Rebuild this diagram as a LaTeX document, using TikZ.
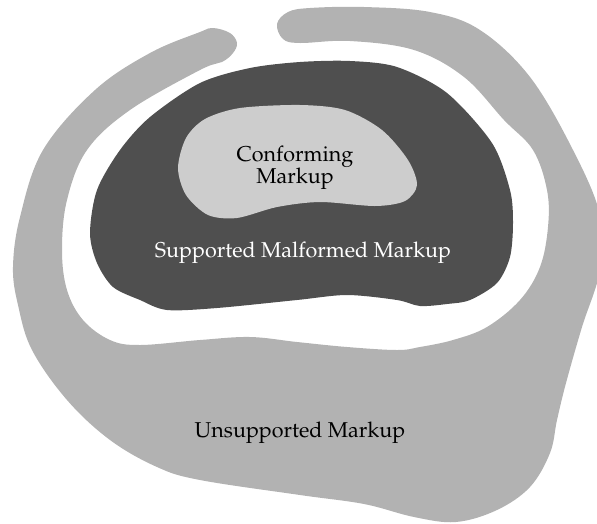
\documentclass[tikz,border=0pt]{standalone}
\usepackage[T1]{fontenc}
\usepackage{mathpazo}
\usepackage{tikz}

\definecolor{outergray}{RGB}{178,178,178}
\definecolor{darkgray}{RGB}{79,79,79}
\definecolor{lightgray}{RGB}{205,205,205}

\begin{document}
\begin{tikzpicture}
[   x=1pt, y=-1pt,
    region/.style={fill=#1, draw=none},
    txt/.style={align=center, inner sep=0pt, font=\fontsize{21.5}{22}\selectfont},
]
    \useasboundingbox (0,0) rectangle (597,523);

    % unsupported markup, open at the top
    \fill[region=outergray] plot[smooth cycle, tension=0.6] coordinates {
        (213,28) (200,32) (150,53) (95,90) (43,150) (20,217) (13,267) (18,305)
        (32,350) (67,400) (110,440) (157,467) (200,480) (300,495) (364,504)
        (414,517) (456,522) (497,510) (530,487) (550,453) (557,420) (566,383)
        (582,327) (600,270) (600,215) (573,150) (530,77) (480,30) (430,12)
        (364,7) (310,8) (288,12) (277,24) (283,39) (300,43) (350,41) (414,50)
        (464,77) (504,120) (533,150) (547,190) (548,227) (540,267) (520,300)
        (487,327) (453,340) (420,347) (397,350) (347,347) (297,342) (250,337)
        (200,340) (140,345) (110,340) (83,320) (67,290) (62,250) (67,200)
        (87,150) (130,110) (200,70) (222,62) (233,53) (237,43) (230,33)
    };

    % supported malformed markup
    \fill[region=darkgray] plot[smooth cycle] coordinates {
        (250,68) (300,62) (350,61) (397,67) (447,93) (492,143) (510,190)
        (513,223) (510,257) (497,283) (470,300) (447,304) (420,306) (397,300)
        (347,295) (297,300) (217,308) (167,310) (140,300) (113,287) (97,263)
        (90,233) (97,190) (120,150) (150,117) (200,83)
    };

    % conforming markup
    \fill[region=lightgray] plot[smooth cycle] coordinates {
        (205,119) (240,108) (300,105) (345,110) (382,130) (408,160)
        (417,185) (405,201) (375,206) (320,202) (277,207) (237,218)
        (208,215) (186,195) (178,168) (186,138)
    };

    \node[txt] (conf) at (295,168) {Conforming\\Markup};
    \node[txt, text=white] (supp) at (303,253) {Supported Malformed Markup};
    \node[txt] (unsupp) at (300,433) {Unsupported Markup};
\end{tikzpicture}
\end{document}
